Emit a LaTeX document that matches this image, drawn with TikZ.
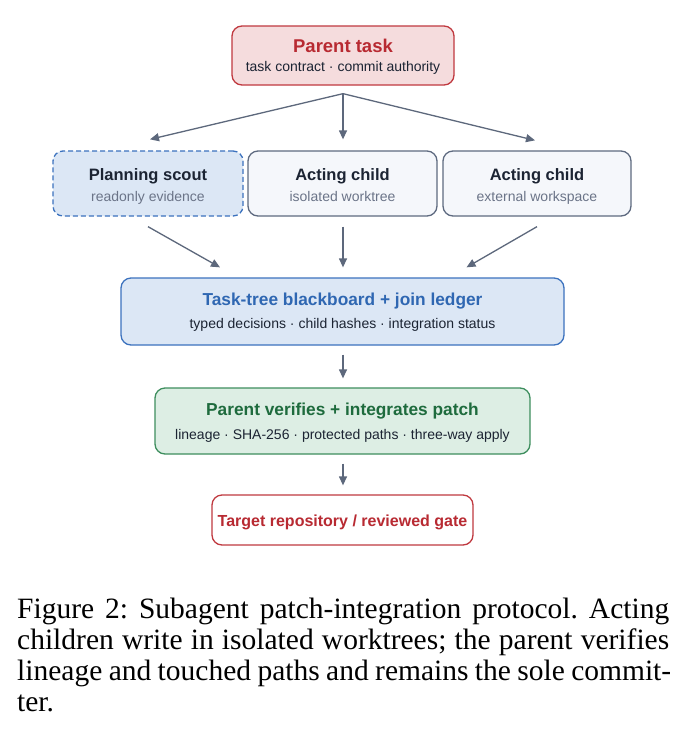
\documentclass[tikz,border=0pt]{standalone}
\usepackage{fontspec}
\setmainfont{Liberation Serif}
\newfontfamily\dfont{Liberation Sans}
\usetikzlibrary{arrows.meta,calc}
\definecolor{redline}{HTML}{C0393F}
\definecolor{redfill}{HTML}{F5DCDD}
\definecolor{redtext}{HTML}{B82A32}
\definecolor{blueline}{HTML}{3C72BE}
\definecolor{bluefill}{HTML}{DCE7F5}
\definecolor{bluetext}{HTML}{2F67B2}
\definecolor{grayline}{HTML}{5E6A80}
\definecolor{grayfill}{HTML}{F5F7FB}
\definecolor{greenline}{HTML}{3E8E5E}
\definecolor{greenfill}{HTML}{DDEEE4}
\definecolor{greentext}{HTML}{1E6B3D}
\definecolor{darktext}{HTML}{1C2433}
\definecolor{subgray}{HTML}{6B7488}
\definecolor{arrowc}{HTML}{5D687C}
\frenchspacing
\begin{document}
\begin{tikzpicture}[x=1pt,y=-1pt,
  box/.style={rounded corners=10pt, line width=1.3pt, inner sep=0pt},
  ttl/.style={anchor=base, inner sep=0pt, font={\dfont\bfseries\fontsize{#1}{#1}\selectfont}},
  ttl/.default=16.5,
  subt/.style={anchor=base, inner sep=0pt, font={\dfont\fontsize{14}{14}\selectfont}},
  arr/.style={draw=arrowc, line width=1.3pt, -{Triangle[length=9pt,width=8pt]}},
  captext/.style={anchor=base west, inner sep=0pt, font={\fontsize{29.5}{29.5}\selectfont}}
]
\useasboundingbox (0,0) rectangle (691,748);
\fill[white] (0,0) rectangle (691,748);

% Parent task
\node[box, draw=redline, fill=redfill, minimum width=222pt, minimum height=59pt] (parent) at (343,55.5) {};
\node[ttl=18.5, text=redtext] (parentT) at (343,52) {Parent task};
\node[subt, text=darktext] (parentS) at (343,71) {task contract · commit authority};

% Children
\node[box, draw=blueline, dashed, dash pattern=on 5pt off 3pt, fill=bluefill, minimum width=190pt, minimum height=65pt] (scout) at (148,183.5) {};
\node[ttl, text=darktext] (scoutT) at (148,180) {Planning scout};
\node[subt, text=subgray] (scoutS) at (148,201.5) {readonly evidence};

\node[box, draw=grayline, fill=grayfill, minimum width=189pt, minimum height=65pt] (act1) at (342.5,183.5) {};
\node[ttl, text=darktext] (act1T) at (342.5,180) {Acting child};
\node[subt, text=subgray] (act1S) at (342.5,201.5) {isolated worktree};

\node[box, draw=grayline, fill=grayfill, minimum width=188pt, minimum height=65pt] (act2) at (537,183.5) {};
\node[ttl, text=darktext] (act2T) at (537,180) {Acting child};
\node[subt, text=subgray] (act2S) at (537,201.5) {external workspace};

% Blackboard
\node[box, draw=blueline, fill=bluefill, minimum width=443pt, minimum height=67pt] (bb) at (342.5,311.5) {};
\node[ttl=17.3, text=bluetext] (bbT) at (342.5,305) {Task-tree blackboard + join ledger};
\node[subt, text=darktext] (bbS) at (342.5,328) {typed decisions · child hashes · integration status};

% Verify
\node[box, draw=greenline, fill=greenfill, minimum width=375pt, minimum height=66pt] (ver) at (342.5,421) {};
\node[ttl=17.3, text=greentext] (verT) at (342.5,415) {Parent verifies + integrates patch};
\node[subt, text=darktext] (verS) at (342.5,439) {lineage · SHA-256 · protected paths · three-way apply};

% Target
\node[box, draw=redline, fill=white, minimum width=261pt, minimum height=50pt] (tgt) at (342.5,520) {};
\node[ttl=16, text=redtext] (tgtT) at (342.5,526) {Target repository / reviewed gate};

% Arrows
\draw[arr] ($(parent.south)+(0,8)$) -- ($(scout.north)+(2,-11)$);
\draw[arr] ($(parent.south)+(0,8)$) -- ($(act1.north)+(0.5,-11)$);
\draw[arr] ($(parent.south)+(0,8)$) -- ($(act2.north)+(-2,-10)$);
\draw[arr] ($(scout.south)+(0,10)$) -- ($(bb.north)+(-122.5,-10)$);
\draw[arr] ($(act1.south)+(0.5,10)$) -- ($(bb.north)+(0.5,-10)$);
\draw[arr] ($(act2.south)+(0,10)$) -- ($(bb.north)+(124,-10)$);
\draw[arr] ($(bb.south)+(0.5,9)$) -- ($(ver.north)+(0.5,-9)$);
\draw[arr] ($(ver.south)+(0.5,9)$) -- ($(tgt.north)+(0.5,-9)$);

% Caption
\node[captext] (c1) at (17,618.5) {\makebox[652pt][s]{Figure 2: Subagent patch-integration protocol. Acting}};
\node[captext] (c2) at (17,649.5) {\makebox[652pt][s]{children write in isolated worktrees; the parent verifies}};
\node[captext] (c3) at (17,680.5) {\makebox[654pt][s]{lineage and touched paths and remains the sole commit-}};
\node[captext] (c4) at (17,711.5) {ter.};
\end{tikzpicture}
\end{document}
